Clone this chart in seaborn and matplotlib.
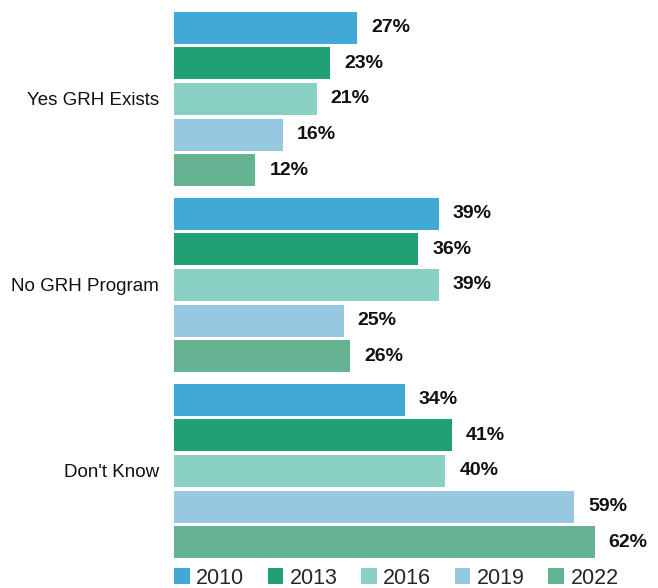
import matplotlib
matplotlib.use("Agg")
import matplotlib.pyplot as plt
from matplotlib.patches import Patch
import seaborn as sns
import pandas as pd

categories = ["Yes GRH Exists", "No GRH Program", "Don't Know"]
years = ["2010", "2013", "2016", "2019", "2022"]
values = {
    "2010": [27, 39, 34],
    "2013": [23, 36, 41],
    "2016": [21, 39, 40],
    "2019": [16, 25, 59],
    "2022": [12, 26, 62],
}
colors = ["#42A9D4", "#21A075", "#8ACFC3", "#96C8E1", "#66B393"]

rows = []
for y in years:
    for c, v in zip(categories, values[y]):
        rows.append({"category": c, "year": y, "value": v})
df = pd.DataFrame(rows)

sns.set_style("white")
plt.rcParams["font.family"] = ["Liberation Sans", "DejaVu Sans"]

fig = plt.figure(figsize=(6.58, 5.88), dpi=100)
ax = fig.add_axes([174 / 658, 1 - 564 / 588, 475 / 658, 558 / 588])

sns.barplot(data=df, y="category", x="value", hue="year", order=categories,
            hue_order=years, palette=colors, orient="h", width=0.955, gap=0.1,
            saturation=1, legend=False, linewidth=0, ax=ax)

for cont in ax.containers:
    labels = [f"{int(round(b.get_width()))}%" for b in cont]
    ax.bar_label(cont, labels=labels, padding=10, fontsize=14,
                 fontweight="bold", color="#111111")

ax.set_xlim(0, 70)
ax.set_ylim(2.5, -0.5)
ax.set_xlabel("")
ax.set_ylabel("")
ax.set_xticks([])
ax.tick_params(axis="y", length=0, pad=11, labelsize=13.5, labelcolor="#111111")
for s in ax.spines.values():
    s.set_visible(False)

handles = [Patch(facecolor=c, edgecolor="none", label=y) for c, y in zip(colors, years)]
fig.legend(handles=handles, loc="center left", bbox_to_anchor=(174 / 658, 1 - 578 / 588),
           ncol=5, frameon=False, fontsize=15.5, handlelength=0.72, handleheight=0.72,
           handletextpad=0.3, columnspacing=1.1, borderaxespad=0, borderpad=0)

fig.savefig("out.png", dpi=100)
